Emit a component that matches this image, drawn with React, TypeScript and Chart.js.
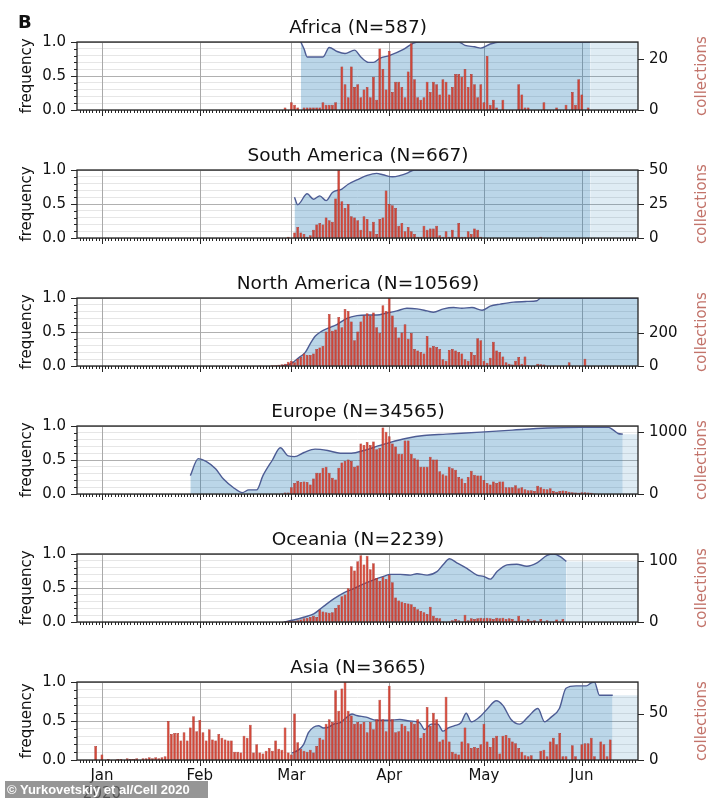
import React, { useEffect, useRef } from 'react';
import { Chart, registerables } from 'chart.js';

Chart.register(...registerables);

const FONT = '"DejaVu Sans", "Liberation Sans", sans-serif';

// x axis: days since 1 Jan 2020
const X_MIN = -7.9;
const X_MAX = 169.8;
const MONTH_DAYS = [0, 31, 60, 91, 121, 152];
const MONTH_LABELS: (string | string[])[] = [['Jan', '2020'], 'Feb', 'Mar', 'Apr', 'May', 'Jun'];
const Y_TICKS = [0, 0.1, 0.2, 0.3, 0.4, 0.5, 0.6, 0.7, 0.8, 0.9, 1.0];
const Y_MAJOR = [0, 0.5, 1.0];

// ---------------- Africa ----------------
const africaTitle = 'Africa (N=587)';
const africaBarStart = 58;
const africaBars = [
  1, 0, 3, 2, 1, 0, 1, 1, 1, 1,
  1, 1, 3, 2, 2, 2, 3, 0, 17, 10,
  5, 17, 9, 10, 5, 8, 9, 5, 13, 4,
  24, 16, 8, 23, 7, 11, 11, 9, 5, 15,
  26, 12, 5, 4, 5, 11, 7, 11, 10, 6,
  12, 11, 6, 9, 14, 14, 13, 16, 9, 14,
  10, 5, 10, 3, 21, 2, 4, 1, 0, 4,
  0, 0, 0, 0, 10, 6, 1, 1, 0, 0,
  0, 0, 3, 0, 0, 0, 1, 0, 0, 2,
  0, 7, 2, 12, 6, 0, 1,
];
const africaFreqDays = [63, 64, 65, 70, 72, 74.5, 77, 80, 82, 84.5, 86, 88, 91, 95.5, 98.5, 100.5, 113, 115, 118, 120, 123, 126, 154.7];
const africaFreq = [1.0, 0.9, 0.78, 0.78, 0.92, 0.86, 0.83, 0.88, 0.78, 0.7, 0.7, 0.76, 0.8, 0.89, 0.98, 1.0, 1.0, 0.95, 0.93, 0.91, 0.97, 1.0, 1.0];
const africaMax = 26.5;
const africaRightTicks = [0, 20];

// ---------------- South America ----------------
const saTitle = 'South America (N=667)';
const saBarStart = 59;
const saBars = [
  1, 0, 4, 8, 4, 3, 1, 2, 6, 10,
  11, 10, 15, 13, 12, 29, 50, 27, 22, 25,
  16, 15, 13, 6, 16, 14, 5, 12, 3, 14,
  15, 35, 25, 24, 22, 9, 11, 5, 8, 5,
  3, 1, 1, 9, 6, 7, 7, 9, 2, 1,
  5, 1, 6, 1, 11, 1, 1, 5, 3, 7,
  6, 1, 0, 0, 0, 0, 0, 0, 0, 0,
  0, 0, 0, 0, 0, 0, 0, 0, 0, 0,
  1,
];
const saFreqDays = [61, 62, 65, 67, 69, 71, 73, 76, 78, 81, 84, 87, 89, 92, 94.5, 96.5, 99, 154.7];
const saFreq = [0.6, 0.49, 0.65, 0.57, 0.62, 0.55, 0.67, 0.72, 0.79, 0.86, 0.92, 0.95, 0.93, 0.9, 0.92, 0.95, 1.0, 1.0];
const saMax = 50;
const saRightTicks = [0, 25, 50];

// ---------------- North America ----------------
const naTitle = 'North America (N=10569)';
const naBarStart = 46;
const naBars = [
  2, 0, 1, 0, 3, 1, 2, 1, 5, 4, 8, 10,
  14, 26, 32, 23, 44, 55, 76, 67, 67, 76,
  102, 111, 120, 208, 313, 213, 220, 296, 234, 343,
  331, 269, 155, 208, 269, 304, 318, 304, 322, 234,
  199, 366, 331, 410, 304, 234, 172, 202, 252, 164,
  199, 102, 93, 84, 76, 181, 111, 120, 114, 102,
  40, 32, 97, 102, 93, 84, 76, 40, 32, 84,
  67, 167, 155, 32, 19, 49, 146, 93, 84, 58,
  23, 14, 9, 32, 55, 14, 58, 5, 0, 0,
  14, 10, 9, 0, 0, 0, 0, 0, 0, 0,
  23, 0, 0, 0, 0, 44,
];
const naFreqDays = [57, 59.7, 62.3, 64.4, 66, 67.6, 69.2, 71.3, 74.4, 77.6, 80.8, 84, 87.1, 90.3, 93.4, 96.6, 99.8, 103, 105, 108.2, 111.4, 114, 117.2, 120.4, 123, 126.2, 130.4, 134.6, 137.8, 139, 169.8];
const naFreq = [0.0, 0.03, 0.12, 0.2, 0.33, 0.44, 0.5, 0.55, 0.61, 0.7, 0.74, 0.75, 0.75, 0.78, 0.81, 0.85, 0.84, 0.81, 0.79, 0.84, 0.86, 0.85, 0.86, 0.82, 0.88, 0.91, 0.94, 0.95, 0.96, 1.0, 1.0];
const naMax = 410;
const naRightTicks = [0, 200];

// ---------------- Europe ----------------
const euTitle = 'Europe (N=34565)';
const euBarStart = 54;
const euBars = [
  2, 3, 5, 10,
  23, 23, 107, 178, 210, 192, 201, 192, 154, 248,
  342, 342, 421, 435, 342, 262, 234, 421, 505, 529,
  552, 529, 435, 458, 809, 786, 833, 786, 842, 716,
  739, 1067, 997, 926, 809, 762, 646, 646, 856, 856,
  646, 575, 552, 435, 435, 435, 599, 552, 552, 365,
  318, 295, 435, 412, 388, 271, 248, 178, 271, 374,
  309, 295, 295, 225, 178, 154, 201, 178, 201, 201,
  107, 107, 107, 140, 94, 107, 75, 61, 61, 47,
  131, 107, 84, 75, 94, 47, 37, 47, 56, 47,
  37, 28, 23, 19, 28, 28, 23, 19, 9, 5,
  4, 3, 3, 2,
];
const euFreqDays = [28, 30.5, 33, 36, 38.5, 41.5, 44.5, 46.5, 49, 51, 54, 56.5, 59, 61, 64, 67.5, 71.5, 75.5, 79, 83, 87, 91.3, 96.6, 102, 109, 120, 130, 141, 151.5, 160.5, 162, 163.5, 165];
const euFreq = [0.27, 0.52, 0.48, 0.37, 0.22, 0.1, 0.02, 0.06, 0.06, 0.27, 0.5, 0.68, 0.56, 0.55, 0.61, 0.66, 0.64, 0.6, 0.6, 0.64, 0.7, 0.76, 0.82, 0.86, 0.88, 0.91, 0.94, 0.97, 0.98, 0.98, 0.94, 0.89, 0.88];
const euMax = 1090;
const euRightTicks = [0, 1000];

// ---------------- Oceania ----------------
const ocTitle = 'Oceania (N=2239)';
const ocBarStart = 58;
const ocBars = [
  1, 2, 2, 2, 3, 4, 6, 7, 8, 10,
  8, 20, 17, 16, 15, 16, 23, 28, 42, 45,
  55, 91, 84, 99, 109, 94, 108, 86, 96, 72,
  67, 74, 70, 77, 65, 40, 35, 33, 31, 30,
  29, 25, 21, 18, 16, 13, 25, 10, 7, 6,
  1, 0, 1, 3, 5, 3, 1, 12, 3, 6,
  5, 6, 7, 6, 7, 6, 5, 7, 6, 7,
  5, 6, 5, 2, 10, 3, 2, 5, 2, 3,
  1, 5, 1, 3, 1, 1, 4, 1, 5,
];
const ocFreqDays = [57.6, 60.7, 63.9, 67.1, 70.2, 73.4, 76.6, 79.7, 82.9, 86.1, 89.2, 91.3, 94.5, 97.7, 99.8, 103, 106.1, 108.2, 110.1, 112.4, 115.6, 118.8, 120.9, 123, 125.1, 128.3, 131.4, 134.6, 137.8, 141, 143.1, 145.2, 147.1];
const ocFreq = [0.0, 0.03, 0.07, 0.12, 0.23, 0.34, 0.43, 0.49, 0.56, 0.62, 0.67, 0.7, 0.7, 0.69, 0.71, 0.69, 0.74, 0.85, 0.93, 0.87, 0.79, 0.69, 0.67, 0.63, 0.74, 0.84, 0.85, 0.82, 0.87, 0.98, 1.0, 0.96, 0.89];
const ocMax = 111;
const ocRightTicks = [0, 100];

// ---------------- Asia ----------------
const asTitle = 'Asia (N=3665)';
const asBarStart = -3;
const asBars = [
  0, 15, 0, 6, 0,
  1, 0, 0, 1, 1, 0, 2, 1, 1, 2, 0, 2, 2, 3, 2, 3, 2, 3, 4,
  42, 28, 29, 29, 21, 30, 21, 35, 47, 31,
  43, 30, 21, 33, 22, 21, 28, 24, 22, 21,
  21, 9, 9, 8, 26, 24, 38, 8, 17, 8,
  7, 10, 13, 10, 21, 12, 11, 35, 8, 6,
  50, 19, 12, 10, 9, 11, 8, 15, 24, 22,
  39, 44, 41, 75, 53, 77, 84, 53, 48, 39,
  41, 39, 41, 30, 41, 33, 44, 65, 44, 31,
  80, 44, 30, 31, 39, 37, 31, 41, 39, 44,
  24, 29, 57, 37, 51, 44, 20, 22, 68, 20,
  9, 7, 6, 20, 35, 18, 13, 14, 13, 17,
  39, 20, 14, 24, 26, 7, 26, 27, 24, 20,
  18, 13, 9, 5, 4, 5, 0, 0, 10, 11,
  4, 20, 24, 17, 29, 4, 4, 0, 16, 4,
  0, 17, 18, 18, 24, 4, 0, 20, 17, 4,
  22,
];
const asFreqDays = [60.2, 62.3, 63.9, 65.4, 67, 68.6, 70.2, 71.8, 73.4, 75.5, 77.6, 79.2, 80.7, 83.7, 86.9, 91.1, 94.3, 97.4, 100.6, 102.2, 104.3, 106.4, 108, 109.6, 111.7, 113.8, 115.4, 117, 119.6, 122.2, 124.9, 127, 129.6, 132.3, 134.9, 138.1, 140.2, 142.3, 144.9, 147, 150.2, 153.4, 155, 156, 157.6, 161.8];
const asFreq = [0.09, 0.13, 0.2, 0.35, 0.42, 0.44, 0.41, 0.42, 0.46, 0.48, 0.55, 0.59, 0.57, 0.55, 0.51, 0.51, 0.52, 0.5, 0.48, 0.39, 0.46, 0.46, 0.37, 0.41, 0.44, 0.48, 0.6, 0.49, 0.55, 0.66, 0.76, 0.7, 0.52, 0.46, 0.55, 0.66, 0.49, 0.55, 0.66, 0.92, 0.95, 0.95, 0.99, 1.0, 0.83, 0.83];
const asMax = 84;
const asRightTicks = [0, 50];

type PanelCfg = {
  title: string;
  barStart: number;
  bars: number[];
  freqDays: number[];
  freq: number[];
  max: number;
  rightTicks: number[];
};

const PANELS: PanelCfg[] = [
  { title: africaTitle, barStart: africaBarStart, bars: africaBars, freqDays: africaFreqDays, freq: africaFreq, max: africaMax, rightTicks: africaRightTicks },
  { title: saTitle, barStart: saBarStart, bars: saBars, freqDays: saFreqDays, freq: saFreq, max: saMax, rightTicks: saRightTicks },
  { title: naTitle, barStart: naBarStart, bars: naBars, freqDays: naFreqDays, freq: naFreq, max: naMax, rightTicks: naRightTicks },
  { title: euTitle, barStart: euBarStart, bars: euBars, freqDays: euFreqDays, freq: euFreq, max: euMax, rightTicks: euRightTicks },
  { title: ocTitle, barStart: ocBarStart, bars: ocBars, freqDays: ocFreqDays, freq: ocFreq, max: ocMax, rightTicks: ocRightTicks },
  { title: asTitle, barStart: asBarStart, bars: asBars, freqDays: asFreqDays, freq: asFreq, max: asMax, rightTicks: asRightTicks },
];

const PANEL_STEP = 128;
const CANVAS_TOP0 = 8;
const TITLE_BLOCK = 34;
const PLOT_H = 78;

function Panel({ cfg, index, last }: { cfg: PanelCfg; index: number; last: boolean }) {
  const ref = useRef<HTMLCanvasElement | null>(null);
  const top = CANVAS_TOP0 + PANEL_STEP * index;
  const height = last ? 800 - top : TITLE_BLOCK + PLOT_H + 10;
  const bottomH = height - TITLE_BLOCK - PLOT_H;

  useEffect(() => {
    const canvas = ref.current;
    if (!canvas) return;
    const barData = cfg.bars.map((v, i) => ({ x: cfg.barStart + i, y: v }));
    const freqData = cfg.freqDays.map((d, i) => ({ x: d, y: cfg.freq[i] }));
    const lastDay = cfg.freqDays[cfg.freqDays.length - 1];
    const lastVal = cfg.freq[cfg.freq.length - 1];
    const tailData = [{ x: lastDay, y: lastVal }, { x: X_MAX, y: lastVal }];

    const decor = {
      id: 'decor',
      beforeDatasetsDraw(chart: any) {
        const { ctx, chartArea: a, scales } = chart;
        ctx.save();
        ctx.strokeStyle = '#a9a9a9';
        ctx.lineWidth = 1;
        ctx.beginPath();
        MONTH_DAYS.forEach((d) => {
          const px = Math.round(scales.x.getPixelForValue(d)) + 0.5;
          ctx.moveTo(px, a.top);
          ctx.lineTo(px, a.bottom);
        });
        ctx.stroke();
        ctx.restore();
      },
      afterDatasetsDraw(chart: any) {
        const { ctx, chartArea: a } = chart;
        ctx.save();
        ctx.strokeStyle = '#262626';
        ctx.lineWidth = 1.3;
        ctx.strokeRect(a.left, a.top, a.right - a.left, a.bottom - a.top);
        ctx.restore();
      },
      afterDraw(chart: any) {
        const { ctx, chartArea: a, scales } = chart;
        const xs = scales.x, ys = scales.y, y2 = scales.y2;
        ctx.save();
        ctx.strokeStyle = '#262626';
        ctx.lineWidth = 1;
        ctx.beginPath();
        for (let d = Math.ceil(X_MIN); d <= X_MAX; d++) {
          const px = Math.round(xs.getPixelForValue(d)) + 0.5;
          const len = MONTH_DAYS.includes(d) ? 6 : 3;
          ctx.moveTo(px, a.bottom);
          ctx.lineTo(px, a.bottom + len);
        }
        Y_TICKS.forEach((v) => {
          const py = Math.round(ys.getPixelForValue(v)) + 0.5;
          const len = Y_MAJOR.includes(v) ? 6 : 3;
          ctx.moveTo(a.left - len, py);
          ctx.lineTo(a.left, py);
        });
        cfg.rightTicks.forEach((v) => {
          const py = Math.round(y2.getPixelForValue(v)) + 0.5;
          ctx.moveTo(a.right, py);
          ctx.lineTo(a.right + 6, py);
        });
        ctx.stroke();
        ctx.fillStyle = '#c2736a';
        ctx.font = '15px ' + FONT;
        ctx.textAlign = 'center';
        ctx.textBaseline = 'middle';
        ctx.translate(702, (a.top + a.bottom) / 2);
        ctx.rotate(-Math.PI / 2);
        ctx.fillText('collections', 0, 0);
        ctx.restore();
      },
    };

    const chart = new Chart(canvas, {
      type: 'bar',
      data: {
        datasets: [
          {
            type: 'bar',
            data: barData as any,
            yAxisID: 'y2',
            order: 0,
            backgroundColor: 'rgba(208, 62, 46, 0.95)',
            borderColor: 'rgba(150, 32, 28, 1)',
            borderWidth: 0.5,
            barPercentage: 0.88,
            categoryPercentage: 1,
          } as any,
          {
            type: 'line',
            data: freqData as any,
            yAxisID: 'y',
            order: 1,
            fill: 'origin',
            backgroundColor: 'rgba(31, 119, 180, 0.3)',
            borderColor: '#4d5c94',
            borderWidth: 1.4,
            pointRadius: 0,
            cubicInterpolationMode: 'monotone',
          } as any,
          {
            type: 'line',
            data: tailData as any,
            yAxisID: 'y',
            order: 2,
            fill: 'origin',
            backgroundColor: 'rgba(31, 119, 180, 0.14)',
            borderWidth: 0,
            pointRadius: 0,
          } as any,
        ],
      },
      options: {
        animation: false,
        responsive: false,
        devicePixelRatio: 1,
        events: [],
        layout: { padding: 0 },
        plugins: {
          legend: { display: false },
          tooltip: { enabled: false },
          title: {
            display: true,
            text: cfg.title,
            color: '#111',
            font: { size: 18.5, family: FONT, weight: 'normal' as any },
            padding: { top: 8.6, bottom: 3.2 },
          },
        },
        scales: {
          x: {
            type: 'linear',
            min: X_MIN,
            max: X_MAX,
            offset: false,
            afterBuildTicks: (s: any) => {
              s.ticks = MONTH_DAYS.map((v) => ({ value: v }));
            },
            afterFit: (s: any) => {
              s.height = bottomH;
            },
            grid: { display: false, drawTicks: false, offset: false },
            border: { display: false },
            ticks: {
              display: last,
              autoSkip: false,
              maxRotation: 0,
              padding: 7,
              color: '#111',
              font: { size: 15, family: FONT },
              callback: (v: any) => {
                const k = MONTH_DAYS.indexOf(v);
                return k >= 0 ? MONTH_LABELS[k] : '';
              },
            },
          },
          y: {
            position: 'left',
            min: 0,
            max: 1,
            afterBuildTicks: (s: any) => {
              s.ticks = Y_TICKS.map((v) => ({ value: v }));
            },
            afterFit: (s: any) => {
              s.width = 77;
            },
            grid: {
              drawTicks: false,
              lineWidth: 1,
              color: (c: any) => (c.tick && Y_MAJOR.includes(c.tick.value) ? '#b0b0b0' : '#e6e6e6'),
            },
            border: { display: false },
            ticks: {
              autoSkip: false,
              padding: 11,
              color: '#111',
              font: { size: 15, family: FONT },
              callback: (v: any) => (Y_MAJOR.includes(v) ? Number(v).toFixed(1) : ''),
            },
            title: {
              display: true,
              text: 'frequency',
              color: '#111',
              font: { size: 15, family: FONT },
              padding: { top: 18, bottom: 0 },
            },
          },
          y2: {
            position: 'right',
            min: 0,
            max: cfg.max,
            afterBuildTicks: (s: any) => {
              s.ticks = cfg.rightTicks.map((v) => ({ value: v }));
            },
            afterFit: (s: any) => {
              s.width = 78;
            },
            grid: { display: false, drawTicks: false },
            border: { display: false },
            ticks: {
              autoSkip: false,
              padding: 11,
              color: '#111',
              font: { size: 15, family: FONT },
              callback: (v: any) => String(v),
            },
          },
        },
      } as any,
      plugins: [decor],
    });
    return () => chart.destroy();
  }, [cfg, last, bottomH]);

  return (
    <canvas
      ref={ref}
      width={716}
      height={height}
      style={{ position: 'absolute', left: 0, top, width: 716, height }}
    />
  );
}

export default function App() {
  return (
    <div style={{ position: 'absolute', left: 0, top: 0, width: 716, height: 800, background: '#fff', overflow: 'hidden' }}>
      {PANELS.map((p, i) => (
        <Panel key={p.title} cfg={p} index={i} last={i === PANELS.length - 1} />
      ))}
      <div
        style={{
          position: 'absolute',
          left: 18,
          top: 13,
          fontFamily: FONT,
          fontWeight: 'bold',
          fontSize: 18,
          lineHeight: 1,
          color: '#111',
        }}
      >
        B
      </div>
      <div
        style={{
          position: 'absolute',
          left: 5,
          top: 781,
          width: 203,
          height: 17,
          background: 'rgba(110, 110, 110, 0.72)',
          color: '#fff',
          fontFamily: '"Liberation Sans", Arial, sans-serif',
          fontWeight: 'bold',
          fontSize: 13,
          lineHeight: '17px',
          paddingLeft: 2,
          whiteSpace: 'nowrap',
          boxSizing: 'border-box',
        }}
      >
        © Yurkovetskiy et al/Cell 2020
      </div>
    </div>
  );
}
